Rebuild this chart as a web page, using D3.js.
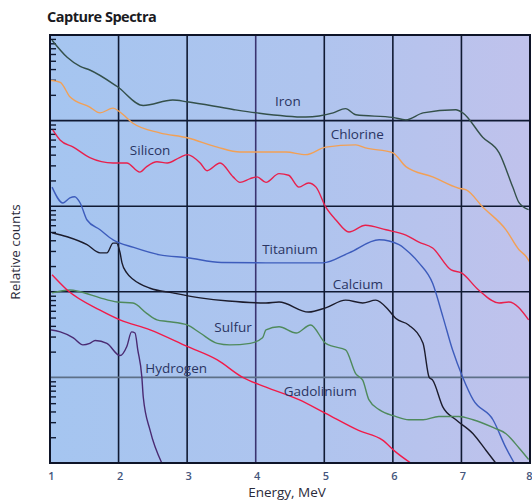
<!DOCTYPE html>
<html>
<head>
<meta charset="utf-8">
<script src="https://cdn.jsdelivr.net/npm/d3@7"></script>
<style>
  body { margin: 0; background: #fff; }
  svg { display: block; font-family: 'Open Sans', sans-serif; }
</style>
</head>
<body>
<div class="chart"></div>
<script>
// capture spectra, log counts vs energy (MeV)

const energyTicks = [1, 2, 3, 4, 5, 6, 7, 8];

// [energy MeV, relative counts]
const iron = [[1.03, 87000], [1.25, 55000], [1.44, 43000], [1.58, 39000], [1.98, 25000], [2.36, 15000],
  [2.79, 17400], [3.0, 16600], [3.67, 13500], [4.02, 12300], [4.73, 11000], [5.13, 12300], [5.31, 13800],
  [5.46, 11700], [6.0, 10900], [6.19, 10200], [6.44, 12300], [6.92, 13400], [7.02, 12300], [7.31, 6400],
  [7.55, 4200], [7.75, 1660], [7.84, 1100], [7.98, 910]];

const chlorine = [[1.0, 29500], [1.15, 28000], [1.29, 19000], [1.58, 14400], [1.73, 12300], [1.92, 14000],
  [2.02, 12600], [2.21, 9300], [2.6, 7200], [3.0, 6300], [3.44, 4900], [3.77, 4300], [4.1, 4300], [4.44, 4300],
  [4.73, 4000], [5.02, 4900], [5.46, 5200], [5.6, 4800], [6.0, 4200], [6.19, 2900], [6.58, 2200], [6.96, 1620],
  [7.07, 1550], [7.31, 980], [7.65, 530], [7.84, 310], [7.94, 260], [8.0, 220]];

const silicon = [[1.04, 7800], [1.15, 5900], [1.34, 4900], [1.58, 3700], [1.92, 3200], [2.12, 3200], [2.31, 2500],
  [2.41, 2900], [2.56, 3300], [2.71, 3200], [2.89, 3700], [3.0, 4000], [3.19, 3200], [3.29, 2600], [3.48, 3200],
  [3.67, 2200], [3.77, 1900], [3.92, 2100], [4.02, 2200], [4.15, 1900], [4.34, 2400], [4.48, 2300], [4.63, 1670],
  [4.77, 1870], [4.88, 1670], [5.02, 980], [5.17, 690], [5.36, 500], [5.6, 600], [5.9, 530], [6.19, 460],
  [6.38, 380], [6.58, 325], [6.85, 180], [7.0, 166], [7.25, 105], [7.55, 74], [7.69, 76], [7.98, 47]];

const titanium = [[1.03, 1670], [1.19, 1090], [1.29, 1250], [1.36, 1290], [1.44, 1090], [1.54, 690], [1.73, 530],
  [1.92, 405], [2.22, 330], [2.6, 270], [3.0, 250], [3.5, 220], [4.15, 218], [4.98, 218], [5.36, 285], [5.8, 405],
  [6.09, 355], [6.19, 310], [6.38, 218], [6.58, 126], [6.73, 51], [6.87, 21], [7.02, 10], [7.17, 5.5], [7.46, 3.2],
  [7.65, 1.5], [7.77, 1]];

const calcium = [[1.03, 490], [1.25, 440], [1.54, 355], [1.73, 285], [1.83, 285], [1.92, 370], [1.97, 370],
  [2.02, 290], [2.05, 218], [2.12, 166], [2.22, 138], [2.46, 110], [2.79, 97], [3.19, 85], [3.6, 78], [4.15, 74],
  [4.34, 76], [4.77, 58], [5.02, 65], [5.31, 80], [5.56, 74], [5.75, 80], [5.94, 61], [6.04, 49], [6.23, 41],
  [6.44, 25], [6.53, 10], [6.58, 9.3], [6.73, 4.5], [6.92, 3.2], [7.17, 2.2], [7.36, 1.4], [7.5, 1]];

const sulfur = [[1.03, 97], [1.29, 105], [1.44, 100], [1.73, 85], [1.98, 76], [2.21, 74], [2.41, 56], [2.56, 47],
  [2.71, 45], [3.0, 41], [3.19, 33], [3.44, 25], [3.62, 24], [3.92, 25], [4.1, 29], [4.15, 36], [4.34, 39],
  [4.59, 33], [4.8, 41], [5.02, 25], [5.13, 23], [5.31, 21], [5.46, 11], [5.56, 9.3], [5.65, 5.5], [5.8, 4.2],
  [6.04, 3.5], [6.23, 3.2], [6.44, 3.2], [6.67, 3.5], [6.96, 3.5], [7.17, 3.2], [7.46, 2.6], [7.65, 2.2],
  [7.84, 1.5], [7.98, 1.1]];

const gadolinium = [[1.03, 158], [1.25, 105], [1.73, 61], [2.02, 47], [2.46, 36], [3.0, 23], [3.44, 16],
  [3.81, 10], [4.15, 7.7], [4.63, 5.5], [5.02, 3.8], [5.5, 2.4], [5.85, 1.85], [6.04, 1.35], [6.26, 1]];

const hydrogen = [[1.0, 36], [1.15, 34], [1.34, 29], [1.48, 24], [1.58, 25], [1.66, 27], [1.83, 25], [2.02, 18],
  [2.12, 23], [2.19, 34], [2.24, 33], [2.28, 21], [2.34, 10], [2.36, 5.9], [2.46, 2.4], [2.63, 1]];

const series = [
  { name: 'Iron', data: iron, color: '#34504a', at: [4.47, 16600] },
  { name: 'Chlorine', data: chlorine, color: '#f2a055', at: [5.48, 6950] },
  { name: 'Silicon', data: silicon, color: '#e8204c', at: [2.46, 4550] },
  { name: 'Titanium', data: titanium, color: '#3d5cbc', at: [4.5, 310] },
  { name: 'Calcium', data: calcium, color: '#1c1c2c', at: [5.49, 123] },
  { name: 'Sulfur', data: sulfur, color: '#4f8a5c', at: [3.67, 38] },
  { name: 'Gadolinium', data: gadolinium, color: '#f21a48', at: [4.94, 6.9] },
  { name: 'Hydrogen', data: hydrogen, color: '#4a2a72', at: [2.84, 12.9] }
];

const width = 532;
const height = 504;
const margin = { top: 35, right: 2, bottom: 41, left: 50 };

const svg = d3.select('.chart')
  .append('svg')
  .attr('width', width)
  .attr('height', height);

const x = d3.scaleLinear().domain([1, 8]).range([margin.left, width - margin.right]);
const y = d3.scaleLog().domain([1, 1e5]).range([height - margin.bottom, margin.top]);

const defs = svg.append('defs');
const grad = defs.append('linearGradient').attr('id', 'bg').attr('x1', '0%').attr('x2', '100%');
grad.append('stop').attr('offset', '0%').attr('stop-color', '#a5c5f0');
grad.append('stop').attr('offset', '55%').attr('stop-color', '#afc4ee');
grad.append('stop').attr('offset', '100%').attr('stop-color', '#c0c2ec');

svg.append('rect')
  .attr('x', x(1)).attr('y', y(1e5))
  .attr('width', x(8) - x(1)).attr('height', y(1) - y(1e5))
  .attr('fill', 'url(#bg)');

// grid
svg.append('g')
  .selectAll('line')
  .data([2, 3, 4, 5, 6, 7])
  .enter()
    .append('line')
    .attr('x1', d => x(d)).attr('x2', d => x(d))
    .attr('y1', y(1e5)).attr('y2', y(1))
    .attr('stroke', d => d === 4 ? '#3a3470' : '#101a33')
    .attr('stroke-width', 1.6);

svg.append('g')
  .selectAll('line')
  .data([10, 100, 1000, 10000])
  .enter()
    .append('line')
    .attr('x1', x(1)).attr('x2', x(8))
    .attr('y1', d => y(d)).attr('y2', d => y(d))
    .attr('stroke', d => d === 10 ? '#5d7088' : '#101a33')
    .attr('stroke-width', 1.6);

// minor log ticks inside the left edge
const minor = y.ticks().filter(v => Math.abs(Math.log10(v) - Math.round(Math.log10(v))) > 1e-6);
svg.append('g')
  .attr('transform', `translate(${x(1)},0)`)
  .call(d3.axisRight(y).tickValues(minor).tickSize(6).tickFormat(''))
  .call(g => g.select('.domain').remove())
  .selectAll('line')
    .attr('stroke', '#101a33')
    .attr('stroke-width', 1.4);

// curves
const line = d3.line()
  .x(d => x(d[0]))
  .y(d => y(d[1]))
  .curve(d3.curveMonotoneX);

svg.append('g')
  .selectAll('path')
  .data(series)
  .enter()
    .append('path')
    .attr('d', d => line(d.data))
    .attr('fill', 'none')
    .attr('stroke', d => d.color)
    .attr('stroke-width', 1.4);

svg.append('g')
  .selectAll('text')
  .data(series)
  .enter()
    .append('text')
    .attr('x', d => x(d.at[0]))
    .attr('y', d => y(d.at[1]))
    .attr('dy', '0.35em')
    .attr('text-anchor', 'middle')
    .attr('font-size', 13.5)
    .attr('fill', '#2a3462')
    .text(d => d.name);

// frame
svg.append('rect')
  .attr('x', x(1)).attr('y', y(1e5))
  .attr('width', x(8) - x(1)).attr('height', y(1) - y(1e5))
  .attr('fill', 'none')
  .attr('stroke', '#0e1428')
  .attr('stroke-width', 2);

// x axis labels
const xAxis = svg.append('g')
  .attr('transform', `translate(0,${y(1) + 6})`)
  .call(d3.axisBottom(x).tickValues(energyTicks).tickSize(0).tickFormat(d3.format('d')))
  .call(g => g.select('.domain').remove());

xAxis.selectAll('text')
  .attr('font-family', "'Open Sans', sans-serif")
  .attr('font-size', 11)
  .attr('font-weight', 600)
  .attr('fill', '#44557c')
  .attr('dx', d => d === 8 ? -1 : 1);

svg.append('text')
  .attr('x', 287)
  .attr('y', 497)
  .attr('text-anchor', 'middle')
  .attr('font-size', 13.5)
  .attr('fill', '#2a2a3a')
  .text('Energy, MeV');

svg.append('text')
  .attr('transform', 'translate(20,252) rotate(-90)')
  .attr('text-anchor', 'middle')
  .attr('font-size', 13.5)
  .attr('fill', '#2a2a3a')
  .text('Relative counts');

svg.append('text')
  .attr('x', 47)
  .attr('y', 22)
  .attr('font-size', 14.5)
  .attr('font-weight', 'bold')
  .attr('letter-spacing', -0.5)
  .attr('fill', '#1a1a22')
  .text('Capture Spectra');
</script>
</body>
</html>
